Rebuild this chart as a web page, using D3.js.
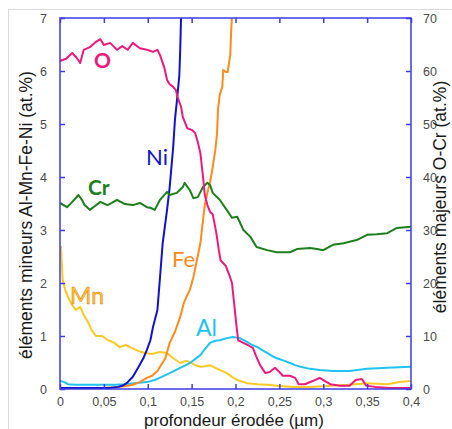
<!DOCTYPE html>
<html>
<head>
<meta charset="utf-8">
<script src="https://cdn.jsdelivr.net/npm/d3@7"></script>
<style>
  body { margin: 0; background: #fff; }
  svg { display: block; }
  .tick text { font-family: "Liberation Sans", Arial, sans-serif; font-size: 12.5px; fill: #4a4a4a; }
  .tick line { stroke: #3c3ce6; stroke-width: 1.5; }
  .curve { fill: none; stroke-width: 2; stroke-linejoin: round; }
  .title { font-family: "Liberation Sans", Arial, sans-serif; font-size: 17.5px; fill: #1a1a1a; }
  .lbl { font-family: Lato, "Open Sans", sans-serif; }
</style>
</head>
<body>
<svg id="chart" width="452" height="429"></svg>
<script>
// depth (µm), value (at.%)
// major elements, right axis (0-70)
const O = [
  [0.000, 61.9], [0.007, 62.3], [0.014, 63.4], [0.019, 62.5], [0.023, 61.5], [0.027, 64.0],
  [0.034, 64.5], [0.041, 65.5], [0.046, 66.0], [0.050, 64.9], [0.057, 65.3], [0.065, 64.0],
  [0.071, 64.7], [0.077, 64.0], [0.083, 65.3], [0.091, 64.3], [0.099, 64.0], [0.106, 63.6],
  [0.111, 64.0], [0.114, 63.0], [0.119, 60.6], [0.122, 58.3], [0.125, 57.5], [0.129, 57.0],
  [0.132, 56.4], [0.134, 55.1], [0.138, 53.2], [0.140, 51.3], [0.145, 49.2], [0.150, 48.9],
  [0.154, 48.3], [0.157, 46.6], [0.160, 44.5], [0.163, 40.0], [0.165, 36.6], [0.168, 34.7],
  [0.171, 33.4], [0.174, 33.0], [0.178, 29.6], [0.181, 26.2], [0.183, 24.3], [0.189, 23.2],
  [0.193, 21.5], [0.196, 20.0], [0.198, 16.8], [0.201, 12.1], [0.203, 9.2], [0.209, 8.7],
  [0.214, 8.3], [0.220, 7.7], [0.223, 6.4], [0.228, 4.5], [0.234, 3.0], [0.239, 3.2],
  [0.245, 4.0], [0.250, 3.2], [0.254, 2.5], [0.262, 2.5], [0.268, 2.1], [0.272, 0.9],
  [0.279, 0.9], [0.288, 1.5], [0.296, 2.1], [0.302, 1.5], [0.308, 0.9], [0.319, 0.6],
  [0.330, 0.6], [0.337, 1.7], [0.344, 1.9], [0.349, 0.6], [0.359, 0.4], [0.376, 0.2],
  [0.387, 0.2], [0.400, 0.2]
]
const Cr = [
  [0.000, 35.1], [0.008, 34.3], [0.014, 35.3], [0.021, 36.6], [0.025, 35.7], [0.028, 34.7],
  [0.034, 33.8], [0.038, 34.3], [0.046, 35.3], [0.054, 34.7], [0.059, 35.1], [0.065, 35.7],
  [0.074, 34.9], [0.083, 34.7], [0.091, 35.1], [0.099, 34.3], [0.103, 34.2], [0.108, 33.8],
  [0.114, 35.7], [0.122, 37.2], [0.125, 36.6], [0.133, 37.0], [0.140, 38.1], [0.142, 38.9],
  [0.148, 37.5], [0.152, 36.0], [0.157, 36.2], [0.163, 38.1], [0.168, 38.9], [0.171, 38.5],
  [0.174, 37.0], [0.182, 35.7], [0.190, 33.8], [0.196, 32.3], [0.202, 32.5], [0.209, 30.0],
  [0.217, 28.7], [0.224, 26.8], [0.236, 26.2], [0.247, 25.8], [0.262, 25.8], [0.270, 26.4],
  [0.285, 26.6], [0.293, 26.4], [0.300, 26.2], [0.311, 27.2], [0.323, 27.5], [0.338, 28.1],
  [0.350, 29.1], [0.361, 29.2], [0.373, 29.4], [0.384, 30.4], [0.400, 30.6]
]
// minor elements, left axis (0-7)
const Ni = [
  [0.000, 0.02], [0.034, 0.02], [0.057, 0.02], [0.066, 0.04], [0.071, 0.06], [0.076, 0.11],
  [0.083, 0.23], [0.089, 0.40], [0.095, 0.58], [0.099, 0.74], [0.103, 0.92], [0.106, 1.17],
  [0.111, 1.49], [0.114, 2.11], [0.117, 2.75], [0.122, 3.38], [0.125, 3.81], [0.129, 4.57],
  [0.131, 5.08], [0.133, 5.40], [0.136, 5.92], [0.137, 6.40], [0.138, 7.05], [0.139, 7.4]
]
const Fe = [
  [0.000, 0.02], [0.046, 0.02], [0.068, 0.04], [0.076, 0.06], [0.083, 0.08], [0.091, 0.13],
  [0.099, 0.21], [0.105, 0.25], [0.111, 0.34], [0.114, 0.42], [0.120, 0.58], [0.125, 0.87],
  [0.131, 1.08], [0.137, 1.36], [0.141, 1.62], [0.145, 1.77], [0.148, 1.87], [0.152, 2.11],
  [0.156, 2.43], [0.160, 2.75], [0.163, 3.19], [0.165, 3.47], [0.168, 3.70], [0.171, 3.91],
  [0.173, 4.08], [0.177, 4.51], [0.179, 4.83], [0.180, 5.26], [0.182, 5.55], [0.185, 5.70],
  [0.186, 6.02], [0.189, 5.98], [0.191, 5.98], [0.194, 6.30], [0.195, 6.72], [0.196, 7.06],
  [0.197, 7.4]
]
const Al = [
  [0.000, 0.15], [0.005, 0.13], [0.009, 0.09], [0.017, 0.08], [0.028, 0.08], [0.046, 0.08],
  [0.063, 0.08], [0.074, 0.09], [0.085, 0.11], [0.099, 0.13], [0.108, 0.17], [0.116, 0.23],
  [0.125, 0.30], [0.137, 0.40], [0.148, 0.49], [0.160, 0.64], [0.165, 0.75], [0.171, 0.87],
  [0.177, 0.91], [0.182, 0.92], [0.190, 0.96], [0.197, 0.98], [0.205, 0.96], [0.213, 0.89],
  [0.219, 0.83], [0.225, 0.79], [0.230, 0.74], [0.236, 0.68], [0.242, 0.62], [0.247, 0.58],
  [0.256, 0.53], [0.262, 0.49], [0.268, 0.45], [0.274, 0.42], [0.285, 0.38], [0.296, 0.36],
  [0.311, 0.34], [0.330, 0.34], [0.350, 0.38], [0.373, 0.40], [0.400, 0.42]
]
const Mn = [
  [0.001, 2.70], [0.002, 2.40], [0.003, 2.06], [0.006, 1.87], [0.009, 1.74], [0.014, 1.58],
  [0.018, 1.49], [0.023, 1.55], [0.027, 1.40], [0.032, 1.26], [0.036, 1.11], [0.041, 1.00],
  [0.048, 1.00], [0.055, 0.92], [0.062, 0.87], [0.068, 0.79], [0.075, 0.83], [0.082, 0.77],
  [0.089, 0.72], [0.097, 0.68], [0.105, 0.66], [0.114, 0.70], [0.122, 0.68], [0.129, 0.58],
  [0.137, 0.49], [0.144, 0.53], [0.148, 0.51], [0.154, 0.45], [0.160, 0.42], [0.165, 0.43],
  [0.171, 0.45], [0.177, 0.40], [0.182, 0.36], [0.190, 0.30], [0.196, 0.23], [0.202, 0.17],
  [0.213, 0.11], [0.225, 0.09], [0.236, 0.08], [0.247, 0.06], [0.266, 0.04], [0.285, 0.04],
  [0.308, 0.06], [0.330, 0.08], [0.350, 0.11], [0.373, 0.09], [0.387, 0.13], [0.400, 0.15]
]

const xTicks = [0, 0.05, 0.1, 0.15, 0.2, 0.25, 0.3, 0.35, 0.4]
const leftTicks = [0, 1, 2, 3, 4, 5, 6, 7]
const rightTicks = [0, 10, 20, 30, 40, 50, 60, 70]

const xTitle = "profondeur érodée (µm)"
const leftTitle = "éléments mineurs Al-Mn-Fe-Ni (at.%)"
const rightTitle = "éléments majeurs O-Cr (at.%)"

const width = 452
const height = 429
const margin = { top: 18, bottom: 40, left: 60, right: 41 }
const axisColor = "#3c3ce6"

let svg = d3.select("#chart")

// light frame around the figure
svg.append("rect")
  .attr("x", 8.5).attr("y", 9.5)
  .attr("width", 460).attr("height", 440)
  .attr("fill", "none")
  .attr("stroke", "#dadada")

const xScale = d3.scaleLinear().domain([0, 0.4]).range([margin.left, width - margin.right])
const yLeft = d3.scaleLinear().domain([0, 7]).range([height - margin.bottom, margin.top])
const yRight = d3.scaleLinear().domain([0, 70]).range([height - margin.bottom, margin.top])

const fmt = (d) => String(d).replace(".", ",")

svg.append("clipPath").attr("id", "clip")
  .append("rect")
  .attr("x", margin.left).attr("y", margin.top)
  .attr("width", width - margin.left - margin.right)
  .attr("height", height - margin.top - margin.bottom)

/**
 * Curves
 */
const series = [
  { name: "Mn", data: Mn, y: yLeft, color: "#f9c924" },
  { name: "Al", data: Al, y: yLeft, color: "#1ec3f2" },
  { name: "Fe", data: Fe, y: yLeft, color: "#ff8a1e" },
  { name: "Ni", data: Ni, y: yLeft, color: "#1212c8" },
  { name: "Cr", data: Cr, y: yRight, color: "#1c7f1c" },
  { name: "O", data: O, y: yRight, color: "#ec1a7c" },
]

let g_curves = svg.append("g").attr("clip-path", "url(#clip)")
g_curves.selectAll(".curve")
  .data(series)
  .enter()
  .append("path")
  .attr("class", "curve")
  .attr("stroke", (d) => d.color)
  .attr("d", (s) => d3.line().x((d) => xScale(d[0])).y((d) => s.y(d[1]))(s.data))

/**
 * Axes, ticks pointing inwards on all four sides
 */
const xB = height - margin.bottom
const xR = width - margin.right

svg.append("g")
  .attr("transform", `translate(0,${xB})`)
  .call(d3.axisBottom(xScale).tickValues(xTicks).tickFormat(fmt).tickSizeInner(-5).tickSizeOuter(0).tickPadding(8))
svg.append("g")
  .attr("transform", `translate(0,${margin.top})`)
  .call(d3.axisTop(xScale).tickValues(xTicks).tickFormat("").tickSizeInner(-5).tickSizeOuter(0))
svg.append("g")
  .attr("transform", `translate(${margin.left},0)`)
  .call(d3.axisLeft(yLeft).tickValues(leftTicks).tickFormat(fmt).tickSizeInner(-5).tickSizeOuter(0).tickPadding(13))
svg.append("g")
  .attr("transform", `translate(${xR},0)`)
  .call(d3.axisRight(yRight).tickValues(rightTicks).tickSizeInner(-5).tickSizeOuter(0).tickPadding(12))

svg.selectAll(".domain").remove()

svg.append("rect")
  .attr("x", margin.left).attr("y", margin.top)
  .attr("width", xR - margin.left)
  .attr("height", xB - margin.top)
  .attr("fill", "none")
  .attr("stroke", axisColor)
  .attr("stroke-width", 1.5)

/**
 * Titles
 */
svg.append("text")
  .attr("class", "title")
  .attr("x", 234).attr("y", 426)
  .attr("text-anchor", "middle")
  .attr("font-size", 17)
  .style("font-size", "17px")
  .text(xTitle)

svg.append("text")
  .attr("class", "title")
  .attr("transform", "translate(32,215) rotate(-90)")
  .attr("text-anchor", "middle")
  .text(leftTitle)

svg.append("text")
  .attr("class", "title")
  .attr("transform", "translate(446,197) rotate(-90)")
  .attr("text-anchor", "middle")
  .text(rightTitle)

/**
 * Curve labels
 */
const labels = [
  { text: "O", x: 94, y: 68, size: 21, weight: "bold", color: "#ec1a7c" },
  { text: "Cr", x: 88, y: 195, size: 21, weight: "bold", color: "#1c7f1c" },
  { text: "Ni", x: 146, y: 165, size: 22, weight: "normal", color: "#1212c8" },
  { text: "Fe", x: 172, y: 267, size: 22, weight: "normal", color: "#ff8a1e" },
  { text: "Al", x: 196, y: 336, size: 23, weight: "normal", color: "#1ec3f2" },
  { text: "Mn", x: 70, y: 304, size: 23, weight: "normal", color: "#f9c924" },
]

svg.selectAll(".lbl")
  .data(labels)
  .enter()
  .append("text")
  .attr("class", "lbl")
  .attr("x", (d) => d.x)
  .attr("y", (d) => d.y)
  .attr("font-size", (d) => d.size)
  .attr("font-weight", (d) => d.weight)
  .attr("fill", (d) => d.color)
  .attr("stroke", (d) => d.text === "Mn" ? "#e0682c" : null)
  .attr("stroke-width", (d) => d.text === "Mn" ? 0.45 : null)
  .text((d) => d.text)
</script>
</body>
</html>
